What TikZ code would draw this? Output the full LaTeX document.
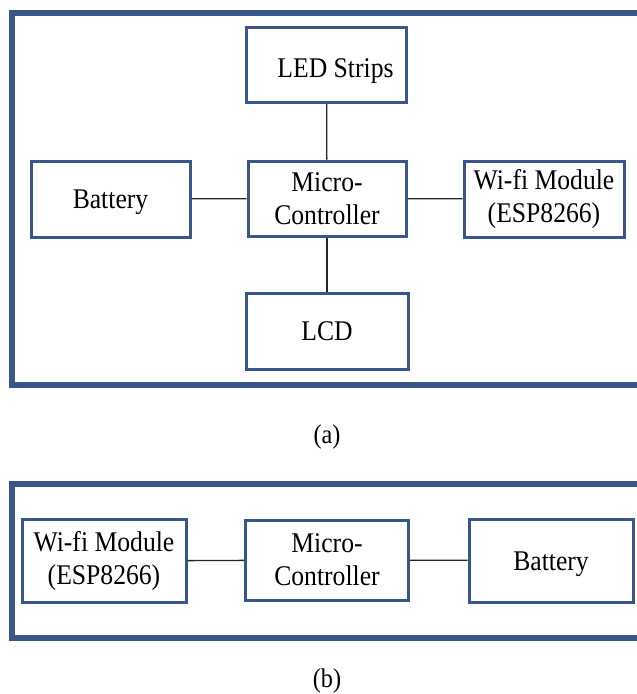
\documentclass[tikz,border=0pt]{standalone}
\usepackage{fontspec}
\setmainfont[FakeStretch=0.9]{Liberation Serif}
\definecolor{frameblue}{RGB}{56,86,138}
\tikzset{
  blk/.style={draw=frameblue, line width=3pt, fill=white, rectangle, inner sep=0pt,
    align=center, font=\fontsize{28.5}{33}\selectfont},
  oneline/.style={text height=19pt, text depth=0pt},
  outer/.style={draw=frameblue, line width=5.5pt},
  link/.style={draw=black!85, line width=1.3pt},
  captxt/.style={font=\fontsize{27}{30}\selectfont}
}
\begin{document}
\begin{tikzpicture}[x=1pt,y=-1pt]
\useasboundingbox (0,0) rectangle (637,694);
\clip (0,0) rectangle (637,694);
% outer frames
\draw[outer] (12,13) rectangle (660,385);
\draw[outer] (12,484) rectangle (660,638);
% (a) nodes
\node[blk, oneline, minimum width=160pt, minimum height=75pt] (led) at (326.5,65) {\hspace*{18pt}\raisebox{-2.5pt}{LED Strips}};
\node[blk, oneline, minimum width=159pt, minimum height=76pt] (bat) at (110.5,199) {Battery};
\node[blk, minimum width=158pt, minimum height=75pt] (mcu) at (327,198.5) {Micro-\\Controller};
\node[blk, minimum width=160pt, minimum height=76pt] (wifi) at (544,199) {Wi-fi Module\\(ESP8266)};
\node[blk, oneline, minimum width=162pt, minimum height=76pt] (lcd) at (327,331) {LCD};
\draw[link] (led) -- (mcu);
\draw[link] (bat) -- (mcu);
\draw[link] (mcu) -- (wifi);
\draw[link] (mcu) -- (lcd);
\node[captxt] (capa) at (327,437) {(a)};
% (b) nodes
\node[blk, minimum width=164pt, minimum height=83pt] (wifib) at (104,561) {Wi-fi Module\\(ESP8266)};
\node[blk, minimum width=163pt, minimum height=80pt] (mcub) at (327,560) {Micro-\\Controller};
\node[blk, oneline, minimum width=164pt, minimum height=83pt] (batb) at (551,560.5) {Battery};
\draw[link] (wifib) -- (mcub);
\draw[link] (mcub) -- (batb);
\node[captxt] (capb) at (327,681) {(b)};
\end{tikzpicture}
\end{document}
